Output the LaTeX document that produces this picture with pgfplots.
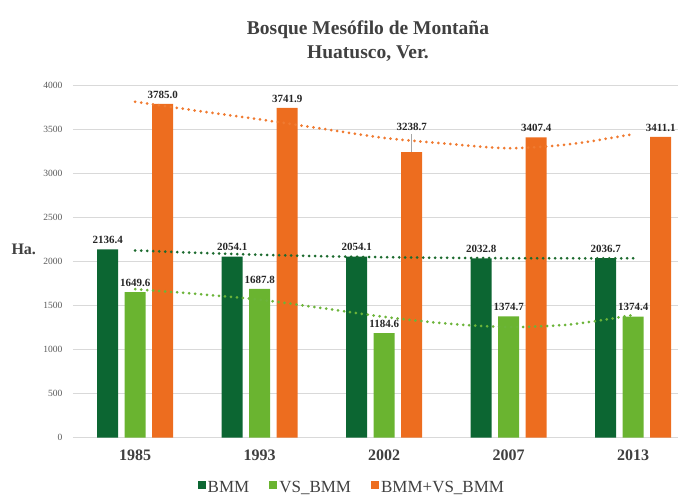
\documentclass[border=0pt]{standalone}
\usepackage{fontspec}
\setmainfont{Liberation Serif}
\usepackage{pgfplots}
\pgfplotsset{compat=1.18}
\definecolor{bmm}{RGB}{12,102,50}
\definecolor{vsbmm}{RGB}{106,180,48}
\definecolor{orng}{RGB}{237,109,31}
\definecolor{trbmm}{RGB}{28,106,46}
\definecolor{trvs}{RGB}{108,180,58}
\definecolor{trorng}{RGB}{240,122,48}
\definecolor{gridgray}{RGB}{217,217,217}
\definecolor{tickgray}{RGB}{89,89,89}
\definecolor{titlegray}{RGB}{64,64,64}
\definecolor{labelblack}{RGB}{38,38,38}
\begin{document}
\begin{tikzpicture}
\useasboundingbox (-73pt,-58.3pt) rectangle (605pt,437.7pt);
\begin{axis}[
  scale only axis, width=605pt, height=352.7pt,
  xmin=-0.5, xmax=4.36, ymin=0, ymax=4000,
  axis line style={draw=none},
  major tick length=0pt,
  xtick={0,1,2,3,4}, xticklabels={1985,1993,2002,2007,2013},
  ytick={0,500,...,4000},
  ymajorgrids, grid style={draw=gridgray, line width=0.9pt},
  /pgf/number format/assume math mode=true,
  /pgf/number format/1000 sep={},
  yticklabel style={font=\fontsize{9.5}{10}\selectfont, text=tickgray, xshift=-7pt},
  xticklabel style={font=\fontsize{16}{18}\selectfont\bfseries, text=titlegray, yshift=-9pt},
  clip=false,
  legend columns=-1,
  legend style={at={(0.461,-0.142)}, anchor=center, draw=none, fill=none,
    font=\fontsize{17}{19}\selectfont, text=titlegray,
    /tikz/every even column/.append style={column sep=18pt}},
  legend image code/.code={\fill[#1] (0pt,-1pt) rectangle (8pt,7pt);},
  lbl/.style={nodes near coords,
    every node near coord/.append style={font=\fontsize{11}{12}\selectfont\bfseries, text=labelblack, yshift=2pt, xshift=#1},
    /pgf/number format/fixed, /pgf/number format/precision=1, /pgf/number format/zerofill},
  trend/.style={forget plot, smooth, color=#1, line width=3pt, line cap=round, dash pattern=on 0pt off 6pt},
]
\addplot[ybar, bar width=21pt, bar shift=-27.5pt, fill=bmm, draw=none, lbl=-27.5pt]
  coordinates {(0,2136.4) (1,2054.1) (2,2054.1) (3,2032.8) (4,2036.7)};
\addlegendentry{BMM}
\addplot[ybar, bar width=21pt, bar shift=0pt, fill=vsbmm, draw=none, lbl=0pt]
  coordinates {(0,1649.6) (1,1687.8) (2,1184.6) (3,1374.7) (4,1374.4)};
\addlegendentry{VS\_BMM}
\addplot[ybar, bar width=21pt, bar shift=27.5pt, fill=orng, draw=none]
  coordinates {(0,3785.0) (1,3741.9) (2,3238.7) (3,3407.4) (4,3411.1)};
\addlegendentry{BMM+VS\_BMM}
% orange labels (2002 label lifted above the trend line)
\addplot[forget plot, draw=none, mark=none, nodes near coords, point meta=explicit symbolic,
  every node near coord/.append style={font=\fontsize{11}{12}\selectfont\bfseries, text=labelblack, yshift=2pt, xshift=27.5pt}]
  coordinates {(0,3785.0)[3785.0] (1,3741.9)[3741.9] (2,3420)[3238.7] (3,3407.4)[3407.4] (4,3411.1)[3411.1]};
\draw[gray!70, line width=0.8pt] ([xshift=27.5pt]axis cs:2,3238.7) -- ([xshift=27.5pt]axis cs:2,3440);
% trend lines
\addplot[trend=trbmm]
  coordinates {(0,2123) (0.5,2097) (1,2075) (1.5,2058) (2,2047) (2.5,2040) (3,2036) (3.5,2034) (4,2034)};
\addplot[trend=trvs]
  coordinates {(0,1684) (0.5,1630) (1,1565) (1.5,1470) (2,1370) (2.5,1295) (3,1255) (3.5,1285) (4,1392)};
\addplot[trend=trorng]
  coordinates {(0,3810) (0.5,3707) (1,3610) (1.5,3505) (2,3400) (2.5,3335) (3,3283) (3.5,3330) (4,3443)};
\end{axis}
\node[font=\fontsize{19.5}{24}\selectfont\bfseries, text=titlegray, align=center] at (295pt,397pt) {Bosque Mesófilo de Montaña\\Huatusco, Ver.};
\node[anchor=base west, font=\fontsize{16}{18}\selectfont\bfseries, text=titlegray] at (-65pt,182.7pt) {Ha.};
\end{tikzpicture}
\end{document}
